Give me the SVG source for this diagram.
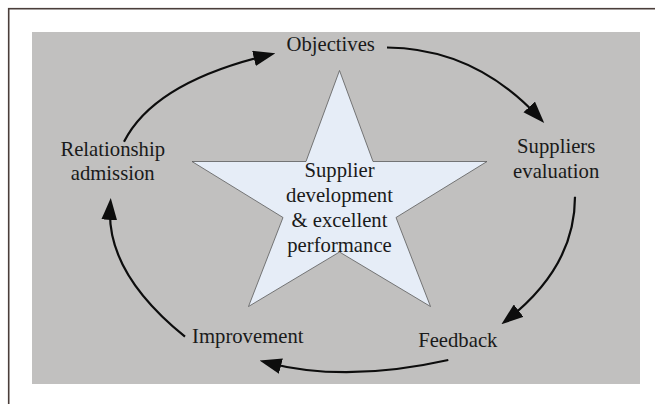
<svg xmlns="http://www.w3.org/2000/svg" width="655" height="404" viewBox="0 0 655 404">
  <style>
    text { font-family: 'Liberation Serif', 'DejaVu Serif', serif; font-size: 20.7px; fill: #1a1a1a; text-anchor: middle; }
    .conn { fill: none; stroke: #0d0d0d; stroke-width: 2.2; }
  </style>
  <defs>
    <marker id="arrow" markerUnits="userSpaceOnUse" markerWidth="22" markerHeight="16" viewBox="0 0 21 15" refX="13" refY="7.5" orient="auto">
      <path d="M0,0 L21,7.5 L0,15 z" fill="#0d0d0d"/>
    </marker>
  </defs>
  <rect x="0" y="0" width="655" height="404" fill="#ffffff"/>
  <rect x="8.7" y="8.7" width="700" height="500" fill="#ffffff" stroke="#4b3e3a" stroke-width="1.6"/>
  <rect x="32" y="32" width="608" height="352" fill="#c1c0bf"/>

  <g font-family="Liberation Serif, DejaVu Serif, serif">
  <g id="star">
    <polygon points="339.5,70.5 373,161.5 487,161.5 396,217.5 430.5,306.5 339.5,252 248.5,306.5 283,217.5 192,161.5 306,161.5" fill="#e6edf7" stroke="#5a5a5a" stroke-width="0.8"/>
    <text x="339.5" y="176.7">Supplier</text>
    <text x="339.5" y="201.7">development</text>
    <text x="339.5" y="226.7">&amp; excellent</text>
    <text x="339.5" y="251.7">performance</text>
  </g>

  <g id="objectives">
    <text x="330.7" y="51">Objectives</text>
  </g>
  <g id="suppliers-evaluation">
    <text x="556.2" y="152.5">Suppliers</text>
    <text x="556.2" y="177.5">evaluation</text>
  </g>
  <g id="feedback">
    <text x="457.8" y="346.7">Feedback</text>
  </g>
  <g id="improvement">
    <text x="247.8" y="343.3">Improvement</text>
  </g>
  <g id="relationship-admission">
    <text x="112.7" y="155.5">Relationship</text>
    <text x="112.7" y="180">admission</text>
  </g>
  </g>

  <g id="connectors">
    <path class="conn" d="M387,47.5 Q474.5,48.3 538.5,116.9" marker-end="url(#arrow)"/>
    <path class="conn" d="M575,196.7 Q575,266.3 508,319.1" marker-end="url(#arrow)"/>
    <path class="conn" d="M448.3,360 Q345.9,383 267.7,362.7" marker-end="url(#arrow)"/>
    <path class="conn" d="M185,336.7 Q105.6,272.5 110.2,206.3" marker-end="url(#arrow)"/>
    <path class="conn" d="M124,141.7 Q153.9,82.5 267.2,55.2" marker-end="url(#arrow)"/>
  </g>
</svg>
